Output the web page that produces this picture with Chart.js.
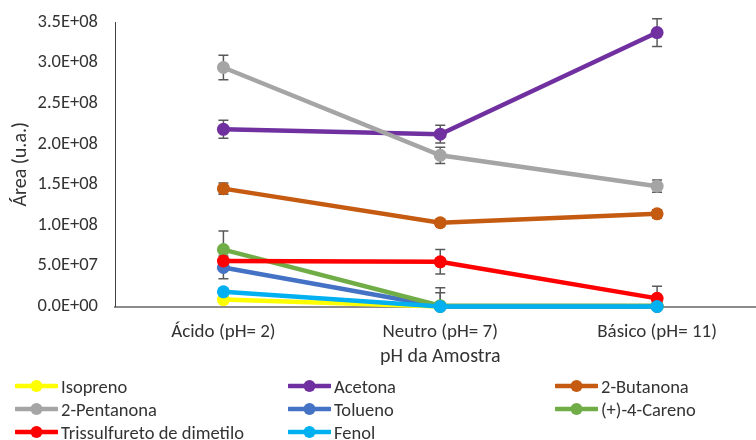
<!DOCTYPE html>
<html>
<head>
<meta charset="utf-8">
<script src="https://cdn.jsdelivr.net/npm/chart.js@4/dist/chart.umd.min.js"></script>
<style>
  html, body { margin: 0; padding: 0; background: #fff; overflow: hidden; }
  #wrap { position: relative; width: 756px; height: 440px; overflow: hidden; }
  #chart { position: absolute; left: 0; top: 0; }
  .leg { position: absolute; display: flex; align-items: center; height: 22px;
         font-family: Carlito, Lato, "Liberation Sans", sans-serif; font-size: 18.5px; color: #333; white-space: nowrap; }
  .leg svg { margin-right: 3px; }
</style>
</head>
<body>
<div id="wrap">
  <canvas id="chart" width="772" height="440"></canvas>
</div>
<script>
// Categories (sample pH)
const categories = ['Ácido (pH= 2)', 'Neutro (pH= 7)', 'Básico (pH= 11)'];

// Compound names and colours, in series order
const seriesNames = ['Isopreno', 'Acetona', '2-Butanona', '2-Pentanona', 'Tolueno', '(+)-4-Careno', 'Trissulfureto de dimetilo', 'Fenol'];
const seriesColors = ['#FFFF00', '#7030A0', '#C55A11', '#A5A5A5', '#4472C4', '#70AD47', '#FF0000', '#00B0F0'];

// Peak areas (u.a.) per category
const isopreno      = [8.5e6, 0, 0];
const acetona       = [2.18e8, 2.12e8, 3.37e8];
const butanona      = [1.45e8, 1.03e8, 1.14e8];
const pentanona     = [2.94e8, 1.86e8, 1.48e8];
const tolueno       = [4.8e7, 0, 0];
const careno        = [7.0e7, 1.0e6, 1.0e6];
const trissulfureto = [5.6e7, 5.5e7, 1.0e7];
const fenol         = [1.8e7, 0, 0];

// Standard deviations (error bars)
const errIsopreno      = [2e6, 0, 0];
const errAcetona       = [1.1e7, 1.1e7, 1.7e7];
const errButanona      = [7e6, 4e6, 5e6];
const errPentanona     = [1.5e7, 1.0e7, 7.5e6];
const errTolueno       = [1.4e7, 1.7e7, 0];
const errCareno        = [2.3e7, 2.2e7, 1e6];
const errTrissulfureto = [3e6, 1.5e7, 1.5e7];
const errFenol         = [3e6, 0, 0];

// Y axis ticks
const yTicks = [0, 5e7, 1e8, 1.5e8, 2e8, 2.5e8, 3e8, 3.5e8];

const seriesValues = [isopreno, acetona, butanona, pentanona, tolueno, careno, trissulfureto, fenol];
const seriesErrors = [errIsopreno, errAcetona, errButanona, errPentanona, errTolueno, errCareno, errTrissulfureto, errFenol];

const FONT = 'Carlito, Lato, "Liberation Sans", sans-serif';
const TEXT = '#333333';

function sci(v) {
  const [m, e] = Number(v).toExponential(1).split('e');
  const n = parseInt(e, 10);
  return m + 'E' + (n < 0 ? '-' : '+') + String(Math.abs(n)).padStart(2, '0');
}

// Error bars drawn underneath the lines
const errorBars = {
  id: 'errorBars',
  beforeDatasetsDraw(chart) {
    const { ctx, chartArea, scales } = chart;
    ctx.save();
    ctx.beginPath();
    ctx.rect(0, 0, chart.width, chartArea.bottom);
    ctx.clip();
    ctx.strokeStyle = '#595959';
    ctx.lineWidth = 1.5;
    chart.data.datasets.forEach((ds, di) => {
      const meta = chart.getDatasetMeta(di);
      ds.data.forEach((v, i) => {
        const err = ds.errors[i];
        if (!err) return;
        const x = meta.data[i].x;
        const yTop = scales.y.getPixelForValue(v + err);
        const yBot = scales.y.getPixelForValue(v - err);
        ctx.beginPath();
        ctx.moveTo(x, yTop); ctx.lineTo(x, yBot);
        ctx.moveTo(x - 5, yTop); ctx.lineTo(x + 5, yTop);
        ctx.moveTo(x - 5, yBot); ctx.lineTo(x + 5, yBot);
        ctx.stroke();
      });
    });
    ctx.restore();
  }
};

const datasets = seriesNames.map((name, i) => ({
  label: name,
  data: seriesValues[i],
  errors: seriesErrors[i],
  borderColor: seriesColors[i],
  backgroundColor: seriesColors[i],
  pointBackgroundColor: seriesColors[i],
  pointBorderColor: seriesColors[i],
  borderWidth: 4.5,
  pointRadius: 6.5,
  pointBorderWidth: 0,
  tension: 0,
  clip: false,
  order: seriesNames.length - i
}));

new Chart(document.getElementById('chart'), {
  type: 'line',
  data: { labels: categories, datasets },
  plugins: [errorBars],
  options: {
    responsive: false,
    animation: false,
    events: [],
    layout: { padding: { top: 22, left: 0, right: 0, bottom: 0 } },
    plugins: { legend: { display: false }, tooltip: { enabled: false } },
    scales: {
      x: {
        offset: true,
        grid: { display: false, drawTicks: false },
        border: { display: true, color: '#8c8c8c', width: 2 },
        ticks: { color: TEXT, font: { family: FONT, size: 19 }, padding: 14, maxRotation: 0 },
        title: { display: true, text: 'pH da Amostra', color: TEXT, font: { family: FONT, size: 20 }, padding: { top: 0, bottom: 71 } },
        afterFit(scale) { scale.height = 133.5; }
      },
      y: {
        min: 0,
        max: 3.5e8,
        grid: { display: false, drawTicks: false },
        border: { display: true, color: '#404040', width: 1 },
        afterBuildTicks(scale) { scale.ticks = yTicks.map(v => ({ value: v })); },
        ticks: { color: TEXT, font: { family: FONT, size: 18.5 }, padding: 17, callback: v => sci(v) },
        title: { display: true, text: 'Área (u.a.)', color: TEXT, font: { family: FONT, size: 20 }, padding: { top: 9, bottom: 0 } },
        afterFit(scale) {
          scale.width = 115;
          scale.paddingTop = 0;
          scale.paddingBottom = 0;
        }
      }
    }
  }
});

// Legend in a three-column grid
const wrap = document.getElementById('wrap');
const colX = [15, 288, 555];
const rowY = [386, 409, 432];
seriesNames.forEach((name, i) => {
  const col = i % 3, row = Math.floor(i / 3);
  const d = document.createElement('div');
  d.className = 'leg';
  d.style.left = colX[col] + 'px';
  d.style.top = (rowY[row] - 11) + 'px';
  const c = seriesColors[i];
  d.innerHTML = '<svg width="43" height="14"><line x1="1" y1="7" x2="42" y2="7" stroke="' + c +
    '" stroke-width="4.5" stroke-linecap="round"/><circle cx="21.5" cy="7" r="6" fill="' + c + '"/></svg>';
  const t = document.createElement('span');
  t.textContent = name;
  d.appendChild(t);
  wrap.appendChild(d);
});
</script>
</body>
</html>
